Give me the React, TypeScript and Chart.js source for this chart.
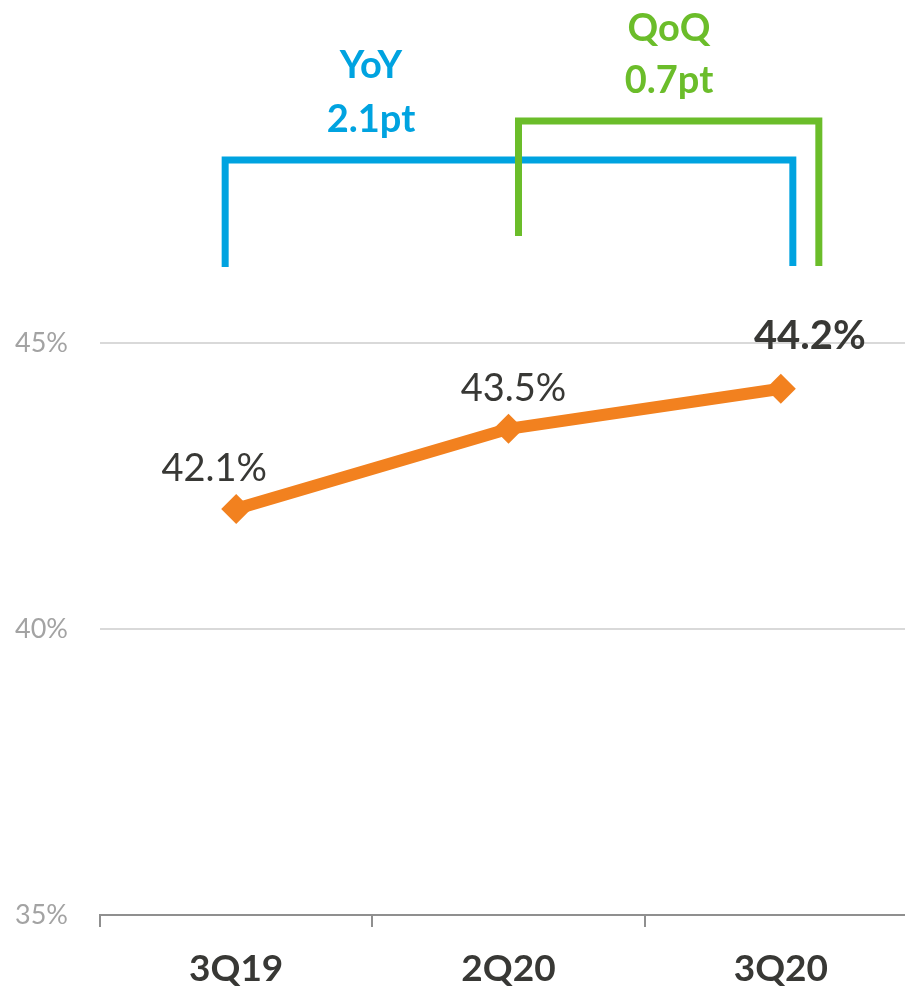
import React, { useEffect, useRef } from "react";
import { Chart, registerables } from "chart.js";

Chart.register(...registerables);

const categories = ["3Q19", "2Q20", "3Q20"];
const values = [42.1, 43.5, 44.2];
const valueLabels = ["42.1%", "43.5%", "44.2%"];
const yTicks = [35, 40, 45];
const yoyTitle = "YoY";
const yoyValue = "2.1pt";
const qoqTitle = "QoQ";
const qoqValue = "0.7pt";

const ORANGE = "#f2811f";
const BLUE = "#00a3e0";
const GREEN = "#6bbd2a";
const TEXT = "#383835";
const FONT = "Lato, 'Open Sans', sans-serif";

// label offsets (pixels from point) — styling only
const labelStyle = [
  { dx: -22, dy: -40, size: 38, weight: "normal" },
  { dx: 5, dy: -40, size: 38, weight: "normal" },
  { dx: 29, dy: -53, size: 40, weight: "bold" },
];

const annotations = {
  id: "annotations",
  afterDatasetsDraw(chart: any) {
    const { ctx } = chart;
    const meta = chart.getDatasetMeta(0);
    ctx.save();
    meta.data.forEach((pt: any, i: number) => {
      const s = labelStyle[i];
      ctx.font = `${s.weight} ${s.size}px ${FONT}`;
      ctx.fillStyle = TEXT;
      ctx.textAlign = "center";
      ctx.textBaseline = "middle";
      ctx.fillText(valueLabels[i], pt.x + s.dx, pt.y + s.dy);
    });

    const x = chart.scales.x;
    const x0 = x.getPixelForValue(0);
    const x1 = x.getPixelForValue(1);
    const x2 = x.getPixelForValue(2);
    ctx.lineWidth = 7;
    ctx.lineJoin = "miter";
    ctx.lineCap = "butt";
    ctx.strokeStyle = BLUE;
    ctx.beginPath();
    ctx.moveTo(x0 - 11, 267);
    ctx.lineTo(x0 - 11, 160);
    ctx.lineTo(x2 + 12, 160);
    ctx.lineTo(x2 + 12, 266);
    ctx.stroke();
    ctx.strokeStyle = GREEN;
    ctx.beginPath();
    ctx.moveTo(x1 + 10, 236);
    ctx.lineTo(x1 + 10, 121);
    ctx.lineTo(x2 + 38, 121);
    ctx.lineTo(x2 + 38, 266);
    ctx.stroke();

    ctx.textAlign = "center";
    ctx.textBaseline = "middle";
    ctx.font = `bold 38px ${FONT}`;
    ctx.fillStyle = BLUE;
    ctx.fillText(yoyTitle, 371, 66);
    ctx.fillText(yoyValue, 371, 120);
    ctx.fillStyle = GREEN;
    ctx.fillText(qoqTitle, 669, 29);
    ctx.fillText(qoqValue, 669, 81);
    ctx.restore();
  },
};

export default function App() {
  const ref = useRef<HTMLCanvasElement | null>(null);
  useEffect(() => {
    if (!ref.current) return;
    const chart = new Chart(ref.current, {
      type: "line",
      data: {
        labels: categories,
        datasets: [
          {
            data: values,
            borderColor: ORANGE,
            backgroundColor: ORANGE,
            borderWidth: 12,
            pointStyle: "rectRot",
            pointRadius: 15,
            pointBorderWidth: 0,
            pointBackgroundColor: ORANGE,
            tension: 0,
          },
        ],
      },
      plugins: [annotations],
      options: {
        animation: false,
        responsive: false,
        maintainAspectRatio: false,
        layout: { padding: { top: 57, right: 0, left: 0, bottom: 0 } },
        plugins: { legend: { display: false }, tooltip: { enabled: false } },
        scales: {
          x: {
            offset: true,
            border: { display: true, color: "#8f8f8f", width: 2 },
            grid: {
              offset: true,
              drawOnChartArea: false,
              drawTicks: true,
              tickLength: 12,
              color: "#8f8f8f",
              lineWidth: 2,
            },
            ticks: {
              color: TEXT,
              padding: 20,
              font: { family: FONT, size: 37, weight: "bold" },
            },
            afterFit(scale: any) {
              scale.height = 77;
            },
          },
          y: {
            min: 35,
            max: 50,
            border: { display: false },
            grid: {
              drawTicks: false,
              lineWidth: 2,
              color: (c: any) =>
                c.tick && (c.tick.value === 40 || c.tick.value === 45)
                  ? "#d9d9d9"
                  : "rgba(0,0,0,0)",
            },
            ticks: {
              stepSize: 5,
              padding: 32,
              color: "#a3a3a3",
              font: { family: FONT, size: 27 },
              callback: (v: any) => (yTicks.includes(Number(v)) ? `${v}%` : ""),
            },
            afterFit(scale: any) {
              scale.width = 100;
            },
          },
        },
      },
    });
    return () => chart.destroy();
  }, []);
  return (
    <div style={{ position: "fixed", left: 0, top: 0, width: 905, height: 992, overflow: "hidden", background: "#fff" }}>
      <canvas ref={ref} width={932} height={992} style={{ width: 932, height: 992, display: "block" }} />
    </div>
  );
}
